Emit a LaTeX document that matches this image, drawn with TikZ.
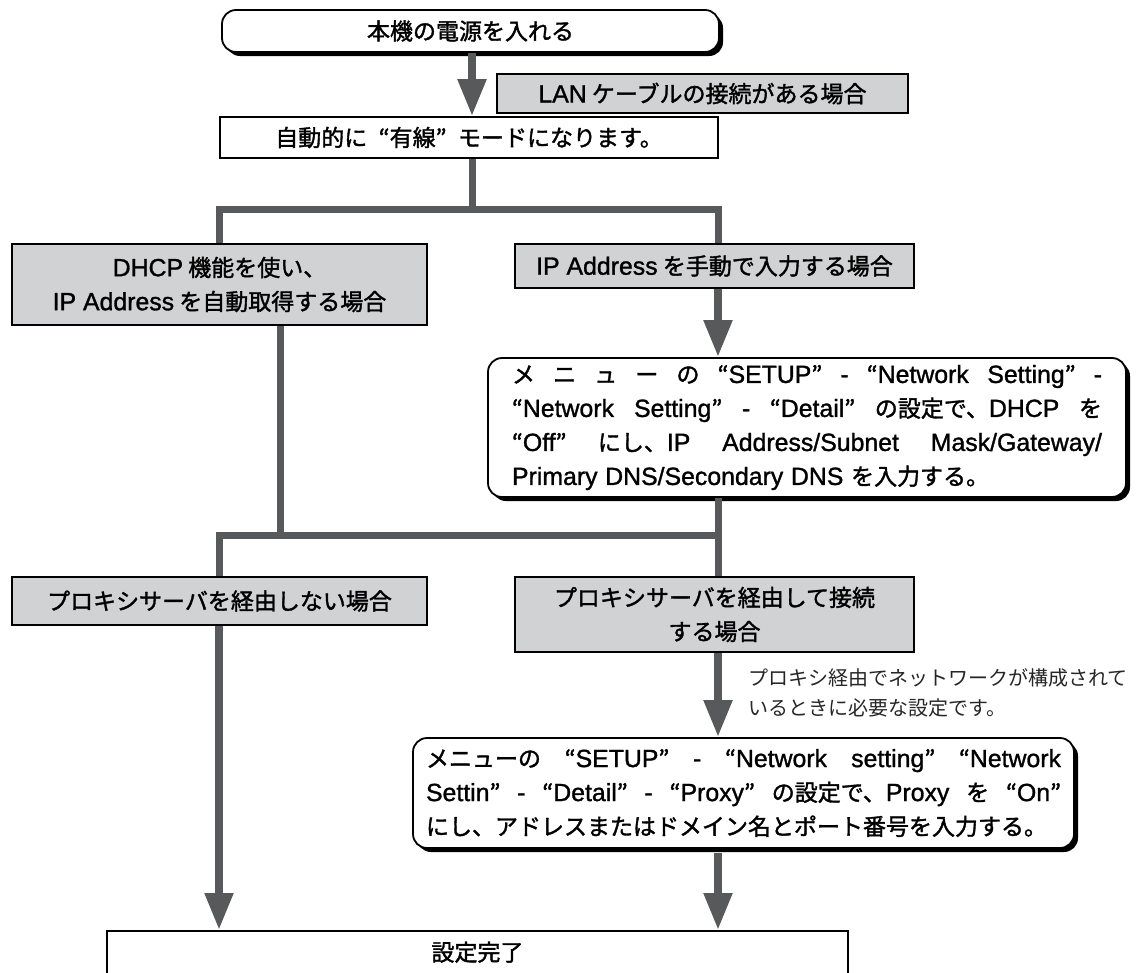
\documentclass[tikz,border=0pt]{standalone}
\usepackage{fontspec}
\setmainfont{Noto Sans CJK JP}
\newfontfamily\bxfont{Noto Sans CJK JP}[FakeBold=1.5]
\newfontfamily\latfont{Liberation Sans}[FakeBold=1.2, Scale=1.08]
\usetikzlibrary{arrows.meta,shadows}
\definecolor{lgray}{HTML}{D1D2D4}
\definecolor{lcol}{HTML}{58595B}
\newcommand\jf{\hspace{0.22em plus 1fil minus 0.15em}}
\newcommand\qsp{\hspace{0.5em}}
\newcommand\ltn[1]{{\latfont #1}}
\newcommand\jline[2]{\leavevmode\hbox to #1{#2}}
\tikzset{
  box/.style={draw=black, line width=1.6pt, fill=lgray, inner sep=0pt,
    font=\bxfont\fontsize{23}{34}\selectfont, align=center},
  wbox/.style={box, fill=white},
  rbox/.style={draw=black, line width=1.8pt, fill=white, rounded corners=14pt,
    inner sep=0pt, general shadow={fill=black, shadow xshift=4pt, shadow yshift=-4pt},
    font=\bxfont\fontsize{23}{34}\selectfont, align=left},
  conn/.style={draw=lcol, line width=7pt, line join=miter},
  arr/.style={draw=lcol, line width=8pt, -{Triangle[width=27pt,length=37pt]}},
  note/.style={font=\fontsize{20}{30}\selectfont, text=black!85, align=left, inner sep=0pt, anchor=north west},
}
\begin{document}
\begin{tikzpicture}[x=1pt,y=-1pt]
\useasboundingbox (0,0) rectangle (1145,972);
% nodes
\node[rbox, align=center, minimum width=497pt, minimum height=42pt] (top) at (470.5,31) {本機の電源を入れる};
\node[box, minimum width=411pt, minimum height=39pt] (lan) at (702.5,93.5) {\ltn{LAN} ケーブルの接続がある場合};
\node[wbox, minimum width=498pt, minimum height=41pt] (auto) at (469,137.5) {自動的に\qsp“有線”\qsp モードになります。};
\node[box, minimum width=415pt, minimum height=81pt] (dhcp) at (219.5,284.5) {\ltn{DHCP} 機能を使い、\\\ltn{IP Address} を自動取得する場合};
\node[box, minimum width=399pt, minimum height=44pt] (ip) at (714.5,266) {\ltn{IP Address} を手動で入力する場合};
\node[rbox, minimum width=638pt, minimum height=139pt, text width=590pt] (setup) at (807,427.5) {%
\jline{590pt}{メ\jf ニ\jf ュ\jf ー\jf の\jf “\ltn{SETUP}”\jf \ltn{-}\jf “\ltn{Network\jf Setting}”\jf \ltn{-}}\\
\jline{590pt}{“\ltn{Network\jf Setting}”\jf \ltn{-}\jf “\ltn{Detail}”\jf の設定で、\ltn{DHCP}\jf を}\\
\jline{590pt}{“\ltn{Off}”\jf にし、\ltn{IP\jf Address/Subnet\jf Mask/Gateway/}}\\
\ltn{Primary DNS/Secondary DNS} を入力する。};
\node[box, minimum width=415pt, minimum height=48pt] (noproxy) at (219.5,601) {プロキシサーバを経由しない場合};
\node[box, minimum width=399pt, minimum height=75pt] (proxy) at (714.5,614.5) {プロキシサーバを経由して接続\\する場合};
\node[note] (memo) at (748,668) {プロキシ経由でネットワークが構成されて\\いるときに必要な設定です。};
\node[rbox, minimum width=661pt, minimum height=110pt, text width=635pt] (pset) at (743.5,793) {%
\jline{635pt}{メニューの\jf “\ltn{SETUP}”\jf \ltn{-}\jf “\ltn{Network\jf setting}”\jf “\ltn{Network}}\\
\jline{635pt}{\ltn{Settin}”\jf \ltn{-}\jf “\ltn{Detail}”\jf \ltn{-}\jf “\ltn{Proxy}”\jf の設定で、\ltn{Proxy}\jf を\jf “\ltn{On}”}\\
にし、アドレスまたはドメイン名とポート番号を入力する。};
\node[wbox, minimum width=741pt, anchor=north, text height=30pt, text depth=40pt] (final) at (477.5,930) {設定完了};
% coordinates
\coordinate (a1) at (472,0);
\coordinate (j1) at (472,209);
\coordinate (j1l) at (219,209);
\coordinate (j1r) at (718,209);
\coordinate (j2m) at (280,535);
\coordinate (j2l) at (219,535);
\coordinate (j2r) at (718,535);
% connectors
\draw[arr] (top.south -| a1) -- (auto.north -| a1);
\draw[conn] (auto.south -| j1) -- (j1);
\draw[conn] (j1l |- dhcp.north) -- (j1l) -- (j1r) -- (j1r |- ip.north);
\draw[arr] (ip.south -| j1r) -- (setup.north -| j1r);
\draw[conn] (dhcp.south -| j2m) -- (j2m);
\draw[conn] (j2l |- noproxy.north) -- (j2l) -- (j2r);
\draw[conn] (setup.south -| j2r) -- (proxy.north -| j2r);
\draw[arr] (noproxy.south -| j2l) -- (final.north -| j2l);
\draw[arr] (proxy.south -| j2r) -- (pset.north -| j2r);
\draw[arr] ([yshift=-4pt]pset.south -| j2r) -- (final.north -| j2r);
\end{tikzpicture}
\end{document}
